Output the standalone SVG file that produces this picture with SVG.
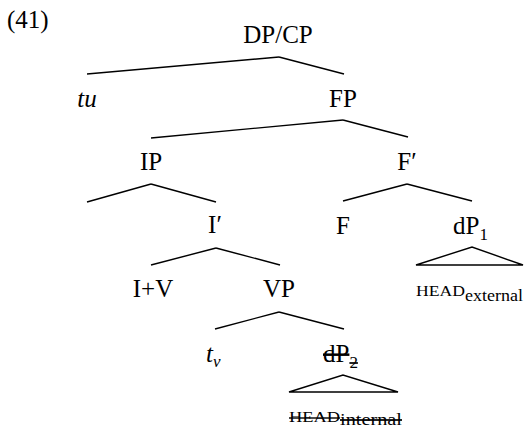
<svg xmlns="http://www.w3.org/2000/svg" width="524" height="432" viewBox="0 0 524 432">
<style>
text{font-family:"Liberation Serif","Times New Roman",serif;fill:#000}
.l{font-size:25px}
.c{text-anchor:middle}
.i{font-style:italic}
.sub{font-size:17px}
.sc{font-size:14px}
.ed line,.ed polygon{stroke:#000;stroke-width:1.4;fill:none}
.strike{text-decoration:line-through}
</style>
<rect width="524" height="432" fill="#fff"/>
<text x="7" y="28" class="l">(41)</text>
<g id="DPCP"><text x="278" y="43" class="l c">DP/CP</text></g>
<g id="tu"><text x="87" y="107" class="l c i">tu</text></g>
<g id="FP"><text x="343" y="107" class="l c">FP</text></g>
<g id="IP"><text x="151" y="170" class="l c">IP</text></g>
<g id="Fbar"><text x="407" y="170" class="l c">F′</text></g>
<g id="Ibar"><text x="215" y="233" class="l c">I′</text></g>
<g id="F"><text x="343" y="234" class="l c">F</text></g>
<g id="dP1"><text x="453" y="234" class="l">dP<tspan class="sub" dy="6">1</tspan></text></g>
<g id="HEADext"><text x="416" y="296" class="sc" textLength="49" lengthAdjust="spacingAndGlyphs">HEAD</text><text x="465" y="301" class="sub" textLength="58" lengthAdjust="spacingAndGlyphs">external</text></g>
<g id="IV"><text x="153" y="297" class="l c">I+V</text></g>
<g id="VP"><text x="279" y="297" class="l c">VP</text></g>
<g id="tv"><text x="206" y="362" class="l i">t<tspan class="sub" dy="5">v</tspan></text></g>
<g id="dP2"><text x="323" y="362" class="l strike">dP<tspan class="sub" dy="6">2</tspan></text></g>
<g id="HEADint"><text x="289" y="422" class="sc strike" textLength="51" lengthAdjust="spacingAndGlyphs">HEAD</text><text x="340" y="425" class="sub strike" textLength="62" lengthAdjust="spacingAndGlyphs">internal</text></g>
<g id="edges" class="ed">
<line x1="87" y1="74" x2="279" y2="57"/><line x1="279" y1="57" x2="344" y2="74"/>
<line x1="151" y1="138" x2="343" y2="120"/><line x1="343" y1="120" x2="408" y2="137"/>
<line x1="87" y1="202" x2="151" y2="184"/><line x1="151" y1="184" x2="216" y2="202"/>
<line x1="343" y1="201" x2="407" y2="184"/><line x1="407" y1="184" x2="472" y2="201"/>
<line x1="151" y1="265" x2="216" y2="248"/><line x1="216" y1="248" x2="280" y2="265"/>
<polygon points="416,265 472,247 523,265"/>
<line x1="215" y1="329" x2="279" y2="312"/><line x1="279" y1="312" x2="344" y2="329"/>
<polygon points="289,392 343,375 398,392"/>
</g>
</svg>
